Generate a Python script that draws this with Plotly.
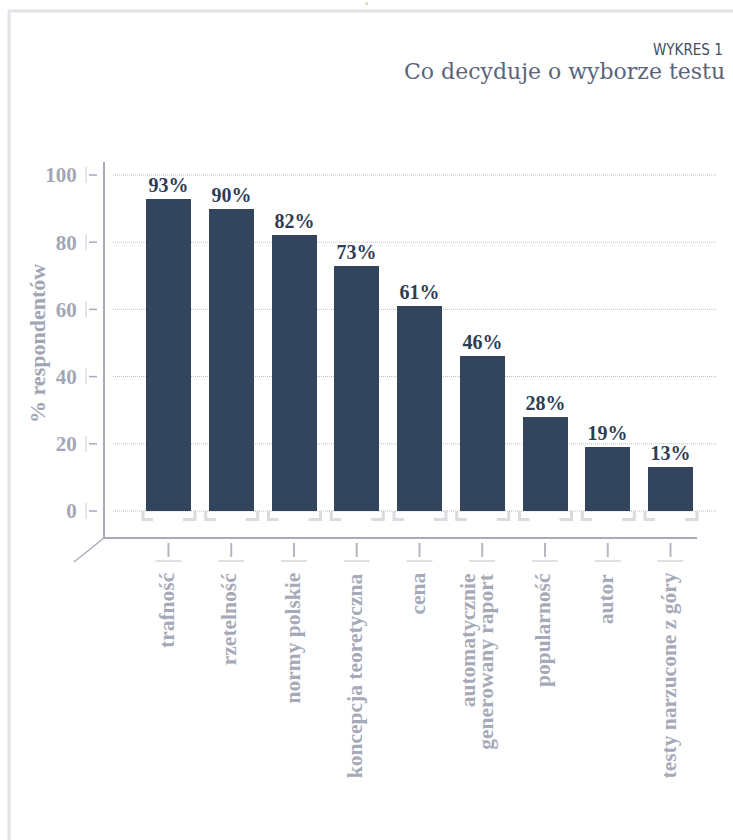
import plotly.graph_objects as go

categories = ["trafność", "rzetelność", "normy polskie", "koncepcja teoretyczna", "cena",
              "automatycznie<br>generowany raport", "popularność", "autor", "testy narzucone z góry"]
values = [93, 90, 82, 73, 61, 46, 28, 19, 13]
y_ticks = [0, 20, 40, 60, 80, 100]

W, H = 733, 840
L, R, T, B = 104, 717, 162, 538       # plot area in pixels
X0_PX, X_STEP = 168.5, 62.75           # first category centre, spacing
Y0_PX, Y_PX = 511, 3.36                # value 0 pixel, pixels per unit

x_lo = (L - X0_PX) / X_STEP
x_hi = (R - X0_PX) / X_STEP
y_lo = -(B - Y0_PX) / Y_PX
y_hi = (Y0_PX - T) / Y_PX

def px(xp):
    return (xp - L) / (R - L)

def py(yp):
    return (B - yp) / (B - T)

AX = "#a9abb8"
LBL = "#a6a9b7"
BAR = "#33455d"
VAL = "#2e3d55"
SERIF = "Liberation Serif, Times New Roman, serif"

idx = list(range(len(categories)))
fig = go.Figure()
fig.add_trace(go.Bar(
    x=idx, y=values, width=45 / X_STEP,
    marker=dict(color=BAR, line=dict(width=0)),
    text=[f"{v}%" for v in values], textposition="outside",
    textfont=dict(family=SERIF, size=20, color=VAL, weight="bold"),
    cliponaxis=False, hoverinfo="skip",
))

shapes = []
# frame
shapes.append(dict(type="line", xref="paper", yref="paper", x0=px(8), x1=px(740), y0=py(11), y1=py(11),
                   line=dict(color="#e2e2e7", width=3)))
shapes.append(dict(type="line", xref="paper", yref="paper", x0=px(9), x1=px(9), y0=py(10), y1=py(845),
                   line=dict(color="#e2e2e7", width=3)))
shapes.append(dict(type="circle", xref="paper", yref="paper", x0=px(365.5), x1=px(368), y0=py(2.5), y1=py(5),
                   line=dict(width=0), fillcolor="#cbc6ac"))
# gridlines
for v in y_ticks:
    shapes.append(dict(type="line", xref="paper", yref="y", x0=px(113), x1=1, y0=v, y1=v,
                       line=dict(color="#bdbdc4", width=1, dash="1px,1px"), layer="below"))
    yp = Y0_PX - v * Y_PX
    shapes.append(dict(type="line", xref="paper", yref="paper", x0=px(86), x1=px(86), y0=py(yp - 8), y1=py(yp + 8),
                       line=dict(color="#e6e6ea", width=2)))
    shapes.append(dict(type="line", xref="paper", yref="paper", x0=px(89), x1=px(97), y0=py(yp), y1=py(yp),
                       line=dict(color=AX, width=1.5)))
# axes
shapes.append(dict(type="line", xref="paper", yref="paper", x0=0, x1=0, y0=py(538), y1=1,
                   line=dict(color=AX, width=2)))
shapes.append(dict(type="line", xref="paper", yref="paper", x0=0, x1=px(697), y0=0, y1=0,
                   line=dict(color=AX, width=2)))
shapes.append(dict(type="line", xref="paper", yref="paper", x0=0, x1=px(74), y0=0, y1=py(562),
                   line=dict(color=AX, width=1.5)))
# brackets and ticks
BR = "#dadadf"
hw = 22.5 / X_STEP
for i in idx:
    bl = i - hw
    br = i + hw
    yb = -8.5 / Y_PX
    shapes.append(dict(type="path", xref="x", yref="y",
                       path=f"M{bl - 3/X_STEP},0 L{bl - 3/X_STEP},{yb} L{bl + 7/X_STEP},{yb}",
                       line=dict(color=BR, width=3)))
    shapes.append(dict(type="path", xref="x", yref="y",
                       path=f"M{br - 8/X_STEP},{yb} L{br + 4/X_STEP},{yb} L{br + 4/X_STEP},0",
                       line=dict(color=BR, width=3)))
    shapes.append(dict(type="line", xref="x", yref="paper", x0=i, x1=i, y0=py(543), y1=py(557),
                       line=dict(color="#b4b6c2", width=2)))
    shapes.append(dict(type="line", xref="x", yref="paper", x0=i - 13/X_STEP, x1=i + 13/X_STEP,
                       y0=py(561), y1=py(561), line=dict(color="#e0e0e4", width=2)))

annotations = []
for i, lab in enumerate(categories):
    lines = lab.split("<br>")
    shifts = [-2] if len(lines) == 1 else [-14, 3]
    for line, sh in zip(lines, shifts):
        annotations.append(dict(x=i, y=py(571), xref="x", yref="paper", text=line, textangle=-90,
                                xanchor="center", yanchor="top", xshift=sh, showarrow=False,
                                font=dict(family=SERIF, size=21.5, color=LBL, weight="bold")))
annotations.append(dict(x=px(37), y=py(344), xref="paper", yref="paper", text="% respondentów",
                        textangle=-90, showarrow=False, xanchor="center", yanchor="middle",
                        font=dict(family=SERIF, size=22, color="#a2a5b3", weight="bold")))
annotations.append(dict(x=px(725), y=py(50), xref="paper", yref="paper", text="WYKRES 1",
                        showarrow=False, xanchor="right", yanchor="middle",
                        font=dict(family="DejaVu Sans Condensed, Liberation Sans Narrow, Arial Narrow, sans-serif",
                                  size=15, color="#434d63")))
annotations.append(dict(x=px(727), y=py(71), xref="paper", yref="paper", text="Co decyduje o wyborze testu",
                        showarrow=False, xanchor="right", yanchor="middle",
                        font=dict(family="DejaVu Serif, serif", size=22, color="#5b647b", weight=300)))

fig.update_layout(
    width=W, height=H,
    margin=dict(l=L, r=W - R, t=T, b=H - B, pad=0),
    paper_bgcolor="white", plot_bgcolor="white",
    showlegend=False, bargap=0,
    shapes=shapes, annotations=annotations,
    xaxis=dict(range=[x_lo, x_hi], showticklabels=False, showgrid=False, zeroline=False,
               showline=False, ticks="", fixedrange=True),
    yaxis=dict(range=[y_lo, y_hi], tickvals=y_ticks, ticks="outside", ticklen=22,
               tickcolor="rgba(0,0,0,0)", showgrid=False, zeroline=False, showline=False,
               tickfont=dict(family=SERIF, size=21, color="#a3a7b5", weight="bold"), fixedrange=True),
)
fig.write_html("out.html", config={"displayModeBar": False})
